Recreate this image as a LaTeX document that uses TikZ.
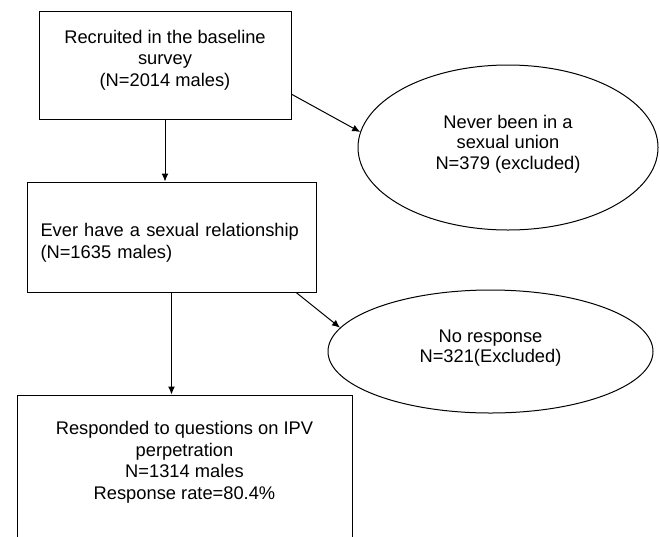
\documentclass[tikz,border=0pt]{standalone}
\usepackage{fontspec}
\setmainfont{Liberation Sans}
\usepackage{tikz}
\usetikzlibrary{shapes, arrows.meta, positioning}
\tikzstyle{box} = [rectangle, draw, line width=1pt, inner sep=0pt, align=center, text depth=14pt, font=\fontsize{18.3pt}{21.5pt}\selectfont]
\tikzstyle{oval} = [ellipse, draw, line width=1pt, inner sep=0pt, align=center, text depth=11pt, font=\fontsize{18.3pt}{20.5pt}\selectfont]
\tikzstyle{line} = [draw, line width=1pt, -{Latex[length=8pt, width=7pt]}]

\begin{document}
\begin{tikzpicture}[x=1pt, y=-1pt]
			\useasboundingbox (0,0) rectangle (660,536);
			\clip (0,0) rectangle (660,536);
			
			\node [box, minimum width=252pt, minimum height=108pt] (recruit) at (165, 65) {Recruited in the baseline\\survey\\(N=2014 males)};
			\node [box, minimum width=289pt, minimum height=110pt, text width=262pt, align=left] (ever) at (171.5, 237) {Ever have a sexual relationship\\(N=1635 males)};
			\node [box, minimum width=335pt, minimum height=145pt] (resp) at (184.5, 467.5) {Responded to questions on IPV\\perpetration\\N=1314 males\\Response rate=80.4\%};
			\node [oval, minimum width=300pt, minimum height=165pt] (never) at (508, 147.5) {Never been in a\\sexual union\\N=379 (excluded)};
			\node [oval, minimum width=325pt, minimum height=123pt] (nores) at (490.5, 351.5) {No response\\N=321(Excluded)};
			
			\path [line] (recruit.south) -- (recruit.south |- ever.north);
			\path [line] (ever.south) -- (ever.south |- resp.north);
			\path [line] (recruit.-13.4) -- (never.174);
			\path [line] (ever.-24.9) -- (nores.171);
		\end{tikzpicture}
\end{document}
